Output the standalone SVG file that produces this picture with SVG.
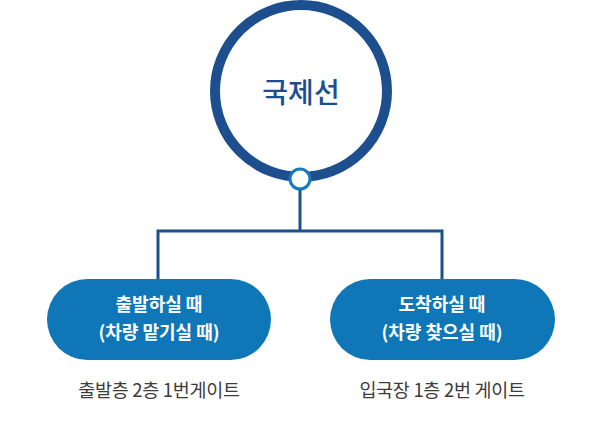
<svg xmlns="http://www.w3.org/2000/svg" width="600" height="440" viewBox="0 0 600 440">
<style>
.conn{fill:none;stroke:#1d4f8e;stroke-width:3}
.pill{fill:#0f77b8}
.pt{font-family:"Noto Sans CJK KR","Noto Sans",sans-serif;font-size:18px;font-weight:bold;fill:#fff;text-anchor:middle}
.cap{font-family:"Noto Sans CJK KR","Noto Sans",sans-serif;font-size:18.5px;letter-spacing:-0.3px;fill:#3c3c3c;text-anchor:middle}
</style>
<rect width="600" height="440" fill="#fff"/>
<g id="connectors">
<path class="conn" d="M300 190 V231 M158 281 V231 H442 V281"/>
</g>
<g id="root">
<circle cx="301" cy="91" r="86" fill="#fff" stroke="#1d4f8e" stroke-width="10"/>
<text x="301" y="103" font-family="'Noto Sans CJK KR','Noto Sans',sans-serif" font-size="28" font-weight="500" fill="#1d4f8e" text-anchor="middle">국제선</text>
<circle cx="300" cy="179" r="10" fill="#fff" stroke="#1479be" stroke-width="3"/>
</g>
<g id="departure">
<rect class="pill" x="47" y="279" width="224" height="81" rx="40.5"/>
<text class="pt" x="159" y="311">출발하실 때</text>
<text class="pt" x="159" y="339">(차량 맡기실 때)</text>
<text class="cap" x="159" y="397">출발층 2층 1번게이트</text>
</g>
<g id="arrival">
<rect class="pill" x="330" y="279" width="225" height="81" rx="40.5"/>
<text class="pt" x="442" y="311">도착하실 때</text>
<text class="pt" x="442" y="339">(차량 찾으실 때)</text>
<text class="cap" x="442" y="397">입국장 1층 2번 게이트</text>
</g>
</svg>
